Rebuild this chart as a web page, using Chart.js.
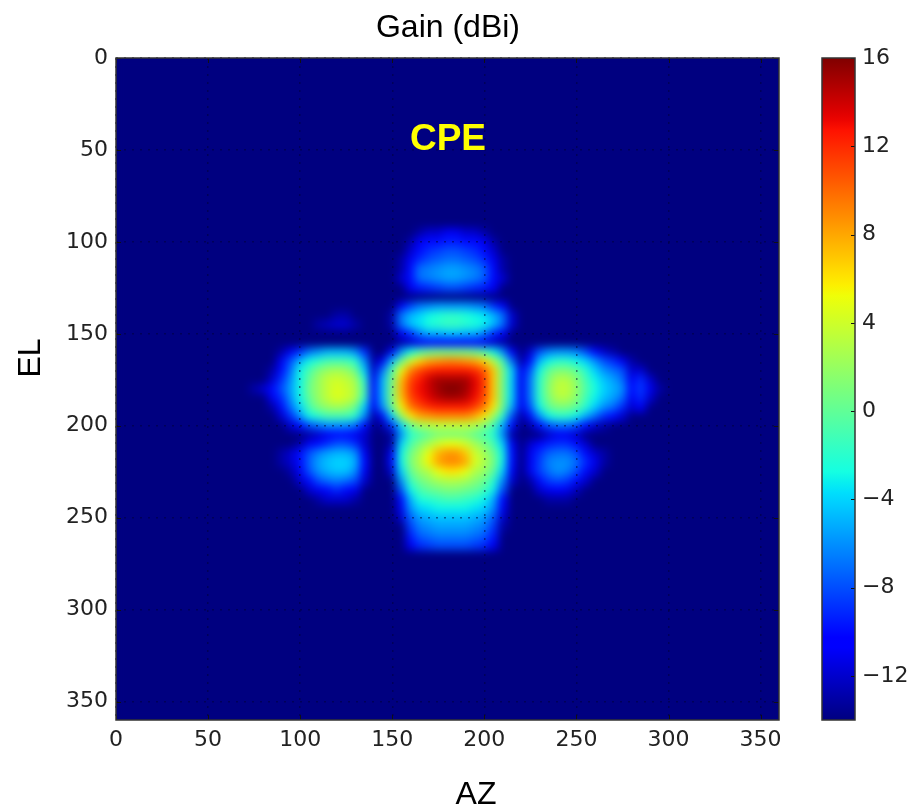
<!DOCTYPE html>
<html>
<head>
<meta charset="utf-8">
<style>
  body { margin: 0; background: #fff; }
  #wrap { position: relative; width: 910px; height: 806px; }
  canvas { position: absolute; top: 0; }
  #myChart { left: 0; }
  #myBar { left: 800px; }
</style>
<script src="https://cdn.jsdelivr.net/npm/chart.js@4"></script>
</head>
<body>
<div id="wrap">
  <canvas id="myChart" width="800" height="806"></canvas>
  <canvas id="myBar" width="110" height="806"></canvas>
</div>
<script>
// values, every 5 degrees, rows shorter than azValues are floor to the right
var o = -14;
var azValues = [70,75,80,85,90,95,100,105,110,115,120,125,130,135,140,145,150,155,160,165,170,175,180,185,190,195,200,205,210,215,220,225,230,235,240,245,250,255,260,265,270,275,280,285,290,295];
var elValues = [95,100,105,110,115,120,125,135,140,145,150,155,160,165,170,175,180,185,190,195,200,205,210,215,220,225,230,235,240,245,250,255,260,265];
var gainRows = [
  [o,o,o,o,o,o,o,o,o,o, o,o,o,o,o,o,o,o,o,-13, -12,-12,-11,-11,-12,-12,-13],
  [o,o,o,o,o,o,o,o,o,o, o,o,o,o,o,o,o,o,-13,-11, -10,-10,-9.5,-9.5,-10,-10,-11,-13],
  [o,o,o,o,o,o,o,o,o,o, o,o,o,o,o,o,o,o,-12,-10, -9,-8.5,-8,-8,-8.5,-9,-10,-12],
  [o,o,o,o,o,o,o,o,o,o, o,o,o,o,o,o,o,-13,-11,-9, -8,-7.5,-7,-7,-7.5,-8,-9,-11,-13],
  [o,o,o,o,o,o,o,o,o,o, o,o,o,o,o,o,o,-13,-10,-7, -6.5,-6,-5.5,-5.5,-6,-6.5,-7.5,-10,-13],
  [o,o,o,o,o,o,o,o,o,o, o,o,o,o,o,o,o,-12,-10,-7, -6.5,-6,-5.5,-5.5,-6,-6.5,-7.5,-10,-12],
  [o,o,o,o,o,o,o,o,o,o, o,o,o,o,o,o,o,o,-11,-9.5, -9,-8.5,-8,-8,-8.5,-9,-9.5,-11],
  [o,o,o,o,o,o,o,o,o,o, o,o,o,o,o,o,o,-11,-8.5,-7, -6.5,-6,-6,-6,-6,-6.5,-7,-9,-11],
  [o,o,o,o,o,o,o,o,o,o, -13,-13,o,o,o,o,-13,-7,-5,-4, -3,-2.5,-2,-2,-2.5,-3,-3.5,-5,-7,-12],
  [o,o,o,o,o,o,o,o,-13,-12.5, -12,-12,-13,o,o,o,-13,-7,-4.5,-3.5, -2.5,-2,-1.5,-1.5,-2,-2.5,-3,-4.5,-7,-12],
  [o,o,o,o,o,o,o,o,o,o, o,o,o,o,o,o,o,-11,-9,-6.5, -5,-5,-4.5,-4.5,-5,-5,-6.5,-9,-11],
  [o,o,o,o,o,o,o,o,o,o, o,o,o,o,o,o,o,-13,-12,-11, -10,-10,-10,-10,-10,-10,-11,-12,-13],
  [o,o,o,o,-13,-11,-9,-7,-6,-5, -5,-5,-6,-9,o,o,-11,-6,-3,-1, 0,0.5,0.5,0.5,0.5,0,-1,-3,-6,-11, o,-12,-8,-6.5,-6,-6,-6.5,-8,-10,-12, -13],
  [o,o,o,o,-11,-8,-5,-3,-2,-1, -1,-1,-2,-6,-13,-11,-5,0,4,6.5, 8,8.5,9,9,8.5,8,6.5,3,-1,-7, -13,-10,-5,-3,-2,-2,-3,-4,-6,-8, -9,-11,-13],
  [o,o,o,-13,-10,-7,-3,-1,1,2, 2.5,2,0.5,-4,-12,-7,-1,5,9,11, 12,12.5,12.5,12.5,12.5,12,10.5,7,1,-4, -11,-8,-3,0,1,1,0,-2,-4,-6, -7,-8,-12,-12],
  [o,o,o,-12,-9,-6,-3,0,2,3.5, 4,3.5,2.5,-2,-11,-5,0.5,7,11,12.5, 14,15,15,15,15,13.5,11.5,7,1,-4, -11,-7,-2,1,3,3,1.5,-1,-3,-4.5, -5.5,-7,-11,-9,-12],
  [o,-13,-12,-10,-8,-5.5,-3,0.5,2,3.5, 4.5,4,3,-1,-10,-5,1,7.5,11.5,13, 14,15.2,16,16,15.2,13.5,11.5,7,1,-4, -11,-7,-2,1.5,3.5,3.5,2,-0.5,-2.5,-4, -5,-6,-10,-8.5,-11,-13],
  [o,o,o,-11,-9,-6,-3,0,2,3.5, 4.5,4,3,-1.5,-10,-5,1,7,11,12.5, 13.5,14.5,15,15,14.5,13,11,7,1,-4, -11,-7,-2,1,3,3,1.5,-1,-3,-4.5, -5.5,-7,-11,-9,-12],
  [o,o,o,-13,-10,-7,-4,-1,1,2, 2.5,2,0.5,-4,-11,-6,0,5.5,9.5,11, 12,12.5,12.5,12.5,12.5,11.5,9.5,6,0.5,-5, -11,-8,-3,0,1,1,0,-2,-4,-6, -7,-9,-12,-11],
  [o,o,o,o,-12,-9,-6,-3,-2,-1, -1,-1,-2,-6,-13,-10,-4,2,6,8, 8.5,9,9,9,9,8,6,2.5,-2,-8, -13,-10,-6,-3,-2,-2,-3,-5,-7,-9, -10,-12],
  [o,o,o,o,o,-12,-10,-8,-7,-6, -6,-6,-7,-10,o,-13,-9,-4,0,2.5, 3,3.5,3.5,3.5,3.5,3,1.5,-1,-5,-10, o,-13,-10,-8,-7,-7,-8,-10,-12,-13],
  [o,o,o,o,o,o,o,-13,-12,-11, -10,-10,-11,-12,o,o,-13,-6,-2,-1, 0,1,1,1,1,0,-1,-2,-6,-13, o,o,o,-12,-11,-11,-12],
  [o,o,o,o,o,o,-13,-11,-10,-9, -8,-8,-9,-12,o,o,-13,-4,-1,1, 2.5,4,5,5,4,2.5,1,-1,-4,-11, o,-12,-10.5,-9.5,-9,-9,-10,-12],
  [o,o,o,o,-13,-12,-10,-8,-6.5,-5.5, -5,-5,-6,-11,o,o,-11,-3,0.5,2.5, 5,7.5,8.5,8.5,7,4,2.5,0.5,-3,-10, o,-11,-9,-7.5,-7,-7,-8,-10,-12,-13],
  [o,o,o,o,-13,-12,-10,-7.5,-5.5,-4.5, -4,-4,-5,-10,o,o,-10,-3,1,3, 5.5,8,9,9,8,4.5,3,1,-3,-10, o,-11,-8.5,-6.5,-6,-6,-7,-9,-11,-13],
  [o,o,o,o,o,-13,-11,-8,-6,-5, -4.5,-4.5,-6,-11,o,o,-12,-4,0,2, 3,5,6,6,5,3,2,0,-4,-11, o,-11,-8.5,-7,-6,-6.5,-8,-10,-12],
  [o,o,o,o,o,o,-12,-10,-8,-7, -6.5,-7,-8,-12,o,o,o,-6,-1.5,0.5, 1.5,2.5,3,3,2.5,1.5,0.5,-2,-6,-12, o,-13,-10,-8.5,-8,-8.5,-10,-12],
  [o,o,o,o,o,o,o,-12,-11,-10, -9,-10,-11,o,o,o,o,-8,-3,-1, 0,0.5,1,1,0.5,0,-1,-3,-8,o, o,o,-12,-11,-10.5,-11,-12.5],
  [o,o,o,o,o,o,o,o,-13,-12, -12,-12,-13,o,o,o,o,-10,-5,-2.5, -2,-1.5,-1,-1,-1.5,-2,-3,-5,-10,o, o,o,o,-13,-13,-13],
  [o,o,o,o,o,o,o,o,o,o, o,o,o,o,o,o,o,-11,-6,-4, -3.5,-3,-3,-3,-3,-3.5,-4,-6,-11],
  [o,o,o,o,o,o,o,o,o,o, o,o,o,o,o,o,o,-12,-7.5,-5.5, -5,-4.5,-4.5,-4.5,-4.5,-5,-5.5,-7.5,-12],
  [o,o,o,o,o,o,o,o,o,o, o,o,o,o,o,o,o,o,-8.5,-6.5, -6,-5.5,-5.5,-5.5,-5.5,-6,-6.5,-8.5,-13],
  [o,o,o,o,o,o,o,o,o,o, o,o,o,o,o,o,o,o,-9.5,-7.5, -7,-6.5,-6.5,-6.5,-6.5,-7,-7.5,-9.5],
  [o,o,o,o,o,o,o,o,o,o, o,o,o,o,o,o,o,o,-11,-9, -8.5,-8,-8,-8,-8,-8.5,-9,-11]
];
var axisTicks = [0,50,100,150,200,250,300,350];
var barTicks = [-12,-8,-4,0,4,8,12,16];
var gainMin = -14, gainMax = 16;
var cellSize = 5;

// matplotlib jet
var jetR = [[0,0],[0.35,0],[0.66,1],[0.89,1],[1,0.5]];
var jetG = [[0,0],[0.125,0],[0.375,1],[0.64,1],[0.91,0],[1,0]];
var jetB = [[0,0.5],[0.11,1],[0.34,1],[0.65,0],[1,0]];
function channel(stops, t) {
  for (var i = 1; i < stops.length; i++) {
    if (t <= stops[i][0]) {
      var a = stops[i-1], b = stops[i];
      return Math.round(255 * (a[1] + (b[1]-a[1]) * (t-a[0]) / (b[0]-a[0])));
    }
  }
  return Math.round(255 * stops[stops.length-1][1]);
}
function jet(t) {
  return 'rgb(' + channel(jetR,t) + ',' + channel(jetG,t) + ',' + channel(jetB,t) + ')';
}
function gainColor(v) { return jet((v - gainMin) / (gainMax - gainMin)); }

var cells = [], cellColors = [];
gainRows.forEach(function(row, r) {
  row.forEach(function(v, c) {
    if (v > gainMin) {
      cells.push({x: azValues[c], y: elValues[r]});
      cellColors.push(gainColor(v));
    }
  });
});

function fixedTicks(list) {
  return function(scale) { scale.ticks = list.map(function(v) { return {value: v}; }); };
}

var tickFont = {family: 'DejaVu Sans', size: 22};
var sideLabels = [
  {text: 'Gain (dBi)', x: 448, y: 28, font: '32px "Liberation Sans"', color: '#000', rot: 0},
  {text: 'AZ', x: 476, y: 795, font: '32px "Liberation Sans"', color: '#000', rot: 0},
  {text: 'EL', x: 31, y: 358, font: '32px "Liberation Sans"', color: '#000', rot: -Math.PI/2},
  {text: 'CPE', x: 448, y: 140, font: 'bold 37px "Liberation Sans"', color: '#ffff00', rot: 0}
];

var heatPlugin = {
  id: 'heat',
  beforeDatasetsDraw: function(chart) {
    var a = chart.chartArea, c = chart.ctx;
    c.save();
    c.fillStyle = gainColor(gainMin);
    c.fillRect(a.left, a.top, a.width, a.height);
    c.restore();
  },
  afterDatasetsDraw: function(chart) {
    // soften the cells the way imshow does, the cells stay where the scales put them
    var a = chart.chartArea, c = chart.ctx;
    var copy = document.createElement('canvas');
    copy.width = chart.canvas.width;
    copy.height = chart.canvas.height;
    copy.getContext('2d').drawImage(chart.canvas, 0, 0);
    c.save();
    c.beginPath();
    c.rect(a.left, a.top, a.width, a.height);
    c.clip();
    c.filter = 'blur(4.5px)';
    c.drawImage(copy, 0, 0, copy.width, copy.height, 0, 0, chart.width, chart.height);
    c.restore();
  },
  afterDraw: function(chart) {
    var a = chart.chartArea, c = chart.ctx, sx = chart.scales.x, sy = chart.scales.y;
    c.save();
    c.strokeStyle = '#111';
    c.lineWidth = 1;
    axisTicks.forEach(function(v) {
      var px = Math.round(sx.getPixelForValue(v)) + 0.5, py = Math.round(sy.getPixelForValue(v)) + 0.5;
      c.beginPath();
      c.moveTo(px, a.top); c.lineTo(px, a.top + 5);
      c.moveTo(px, a.bottom); c.lineTo(px, a.bottom - 5);
      c.moveTo(a.left, py); c.lineTo(a.left + 5, py);
      c.moveTo(a.right, py); c.lineTo(a.right - 5, py);
      c.stroke();
    });
    c.strokeStyle = '#333';
    c.lineWidth = 1.5;
    c.strokeRect(a.left, a.top, a.width, a.height);
    c.textAlign = 'center';
    c.textBaseline = 'middle';
    sideLabels.forEach(function(l) {
      c.save();
      c.translate(l.x, l.y);
      c.rotate(l.rot);
      c.font = l.font;
      c.fillStyle = l.color;
      c.fillText(l.text, 0, 0);
      c.restore();
    });
    c.restore();
  }
};

var gridLine = {z: 1, color: 'rgba(0,0,50,0.5)', lineWidth: 1.5, drawTicks: false, tickLength: 0};

var ctx = document.getElementById('myChart').getContext('2d');
var myChart = new Chart(ctx, {
  type: 'scatter',
  plugins: [heatPlugin],
  data: {
    datasets: [{
      label: 'Gain (dBi)',
      data: cells,
      pointStyle: 'rect',
      pointBackgroundColor: cellColors,
      pointBorderWidth: 0,
      pointRadius: function(c) {
        var s = c.chart.scales.x;
        return (s.getPixelForValue(cellSize) - s.getPixelForValue(0) + 1) / Math.SQRT2;
      }
    }]
  },
  options: {
    responsive: false,
    animation: false,
    events: [],
    layout: {padding: {left: 50, right: 21, top: 58, bottom: 46}},
    plugins: {legend: {display: false}, tooltip: {enabled: false}},
    scales: {
      x: {
        type: 'linear', position: 'bottom', min: 0, max: 360,
        afterBuildTicks: fixedTicks(axisTicks),
        afterFit: function(s) { s.height = 40; },
        grid: gridLine,
        border: {display: false, dash: [2, 6]},
        ticks: {font: tickFont, color: '#222', padding: 7, autoSkip: false, maxRotation: 0}
      },
      y: {
        type: 'linear', position: 'left', min: 0, max: 360, reverse: true,
        afterBuildTicks: fixedTicks(axisTicks),
        afterFit: function(s) { s.width = 66; },
        grid: gridLine,
        border: {display: false, dash: [2, 6]},
        ticks: {font: tickFont, color: '#222', padding: 8, autoSkip: false}
      }
    }
  }
});

var barCtx = document.getElementById('myBar').getContext('2d');
var barPlugin = {
  id: 'barFrame',
  afterDraw: function(chart) {
    var a = chart.chartArea, c = chart.ctx, sy = chart.scales.y;
    c.save();
    c.strokeStyle = '#111';
    c.lineWidth = 1;
    barTicks.forEach(function(v) {
      var py = Math.round(sy.getPixelForValue(v)) + 0.5;
      c.beginPath();
      c.moveTo(a.right, py); c.lineTo(a.right - 4, py);
      c.stroke();
    });
    c.strokeStyle = '#333';
    c.lineWidth = 1.5;
    c.strokeRect(a.left, a.top, a.width, a.height);
    c.restore();
  }
};
var myBar = new Chart(barCtx, {
  type: 'bar',
  plugins: [barPlugin],
  data: {
    labels: ['Gain (dBi)'],
    datasets: [{
      data: [[gainMin, gainMax]],
      barPercentage: 1,
      categoryPercentage: 1,
      borderWidth: 0,
      backgroundColor: function(c) {
        var a = c.chart.chartArea;
        if (!a) return '#00007f';
        var g = c.chart.ctx.createLinearGradient(0, a.bottom, 0, a.top);
        for (var i = 0; i <= 64; i++) g.addColorStop(i / 64, jet(i / 64));
        return g;
      }
    }]
  },
  options: {
    responsive: false,
    animation: false,
    events: [],
    layout: {padding: {left: 22, right: 0, top: 58, bottom: 86}},
    plugins: {legend: {display: false}, tooltip: {enabled: false}},
    scales: {
      x: {display: false},
      y: {
        position: 'right', min: gainMin, max: gainMax,
        afterBuildTicks: fixedTicks(barTicks),
        afterFit: function(s) { s.width = 55; },
        grid: {display: false, drawTicks: false, tickLength: 0},
        border: {display: false},
        ticks: {
          font: tickFont, color: '#222', padding: 7, autoSkip: false,
          callback: function(v) { return String(v).replace('-', '\u2212'); }
        }
      }
    }
  }
});
</script>
</body>
</html>
